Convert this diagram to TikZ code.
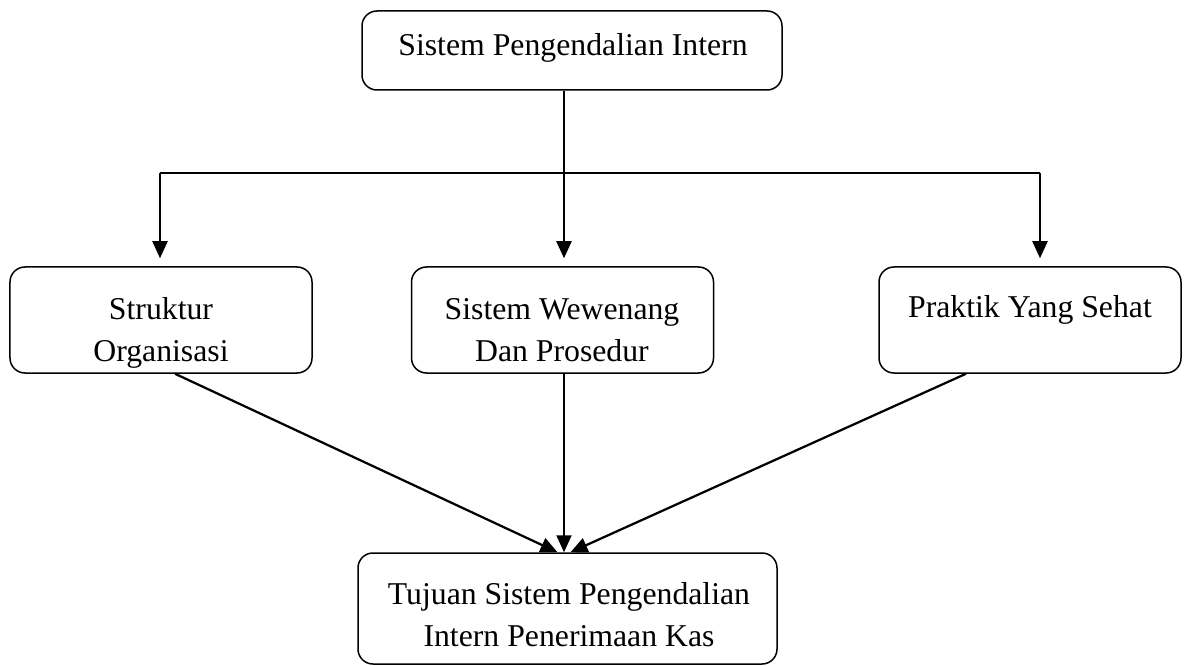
\documentclass[tikz,border=0pt]{standalone}
\usepackage{fontspec}
\setmainfont{Liberation Serif}
\usetikzlibrary{arrows.meta}
\begin{document}
\begin{tikzpicture}[x=0.4pt,y=-0.4pt,
  box/.style={draw, line width=0.6pt, rounded corners=6pt, inner sep=0pt},
  txt/.style={align=center, inner sep=0pt, font=\fontsize{12.7}{16.8}\selectfont, anchor=base},
  conn/.style={line width=0.9pt},
  arr/.style={conn, -{Triangle[length=6.8pt,width=6pt]}}]
\useasboundingbox (0,0) rectangle (1187,666);

% boxes
\node[box, minimum width=168pt, minimum height=31.6pt] (top) at (572,50.5) {};
\node[box, minimum width=120.8pt, minimum height=42.4pt] (org) at (161,320) {};
\node[box, minimum width=120.8pt, minimum height=42.4pt] (proc) at (562.5,320) {};
\node[box, minimum width=120.8pt, minimum height=42.4pt] (prac) at (1030,320) {};
\node[box, minimum width=167.6pt, minimum height=44.4pt] (goal) at (567.5,608.5) {};

% labels (anchored at the baseline of the last line)
\node[txt] (topT) at (573,56) {Sistem Pengendalian Intern};
\node[txt] (orgT) at (161,361) {Struktur\\Organisasi};
\node[txt] (procT) at (562,361) {Sistem Wewenang\\Dan Prosedur};
\node[txt] (pracT) at (1030,318) {Praktik Yang Sehat};
\node[txt] (goalT) at (569,646) {Tujuan Sistem Pengendalian\\Intern Penerimaan Kas};

% distribution bar
\coordinate (hub) at (564,173);
\coordinate (left) at (160,173);
\coordinate (right) at (1040,173);
\draw[conn] (left) -- (right);
\draw[arr, shorten >=3.2pt] (top.south -| hub) -- (proc.north -| hub);
\draw[arr, shorten >=3.2pt] (left) -- (org.north -| left);
\draw[arr, shorten >=3.2pt] (right) -- (prac.north -| right);

% converging arrows
\draw[arr] ([xshift=5.6pt]org.south) -- ([xshift=-4pt]goal.north);
\draw[arr] (proc.south -| hub) -- (goal.north -| hub);
\draw[arr] ([xshift=-25.6pt]prac.south) -- ([xshift=1.2pt]goal.north);
\end{tikzpicture}
\end{document}
